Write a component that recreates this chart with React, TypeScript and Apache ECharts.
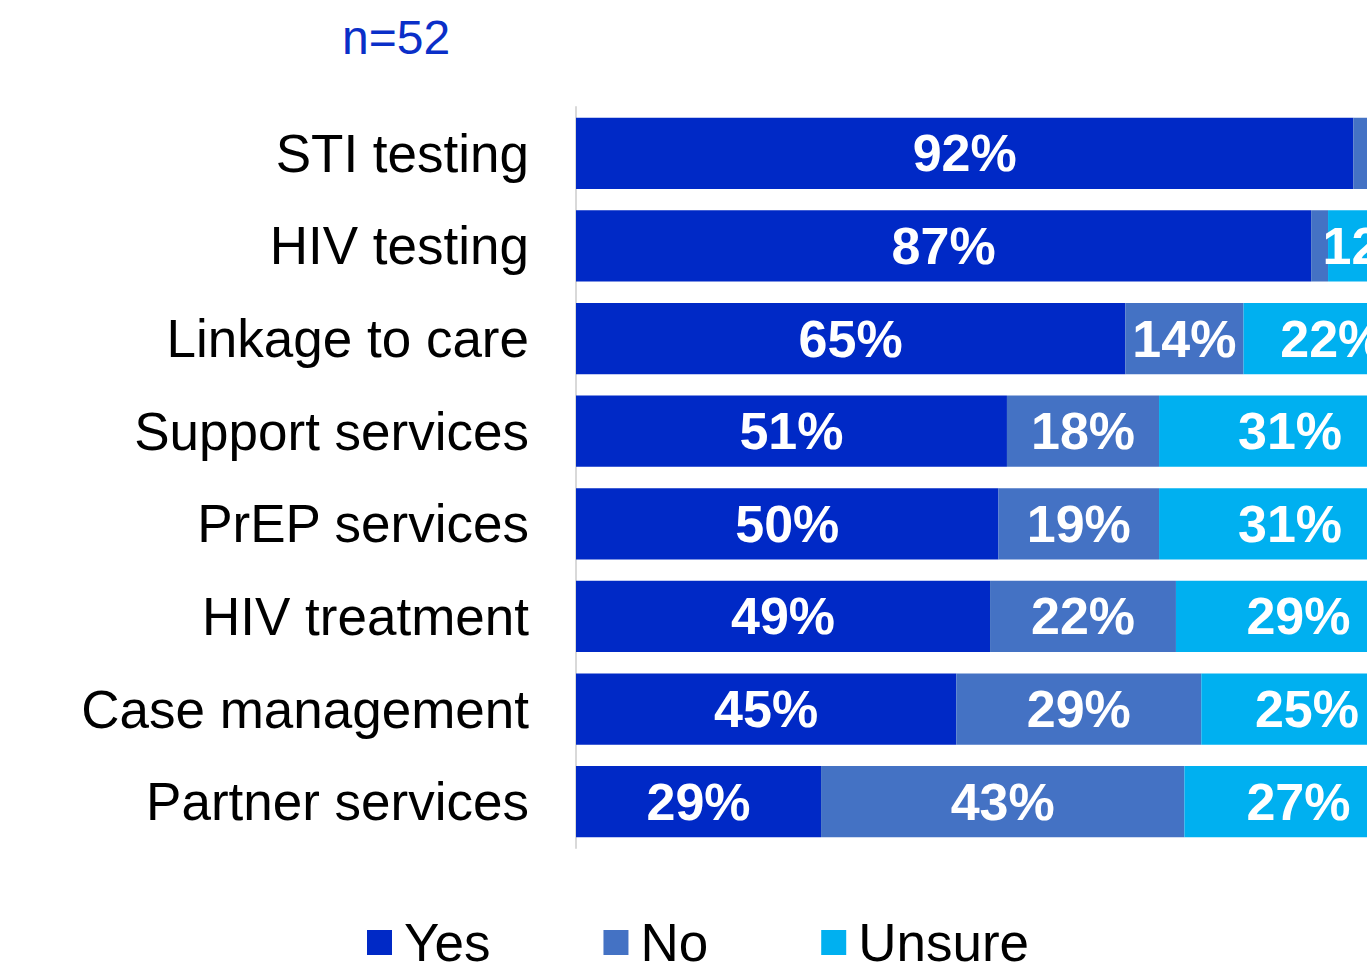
import React, { useEffect, useRef } from "react";
import * as echarts from "echarts";

const categories = [
  "STI testing",
  "HIV testing",
  "Linkage to care",
  "Support services",
  "PrEP services",
  "HIV treatment",
  "Case management",
  "Partner services",
];
const yesValues = [92, 87, 65, 51, 50, 49, 45, 29];
const noValues = [4, 2, 14, 18, 19, 22, 29, 43];
const unsureValues = [4, 12, 22, 31, 31, 29, 25, 27];
const seriesNames = ["Yes", "No", "Unsure"];
const colors = ["#0029C6", "#4472C4", "#00B0F0"];
const sampleLabel = "n=52";

const FONT = "'Liberation Sans', Arial, sans-serif";

export default function App() {
  const ref = useRef<HTMLDivElement>(null);
  useEffect(() => {
    if (!ref.current) return;
    const chart = echarts.init(ref.current, undefined, { renderer: "svg" });
    const dataSets = [yesValues, noValues, unsureValues];
    chart.setOption({
      animation: false,
      backgroundColor: "#ffffff",
      title: {
        text: sampleLabel,
        left: 337,
        top: 8,
        textStyle: { color: "#0A2FC8", fontSize: 48, fontWeight: "normal", fontFamily: FONT },
      },
      legend: {
        data: seriesNames,
        left: 367,
        top: 916,
        padding: 0,
        icon: "rect",
        itemWidth: 25,
        itemHeight: 25,
        itemGap: 113,
        textStyle: { fontSize: 53, color: "#000", fontFamily: FONT, padding: [0, 0, 0, 7] },
      },
      grid: { left: 576, right: 0, top: 107, bottom: 119, containLabel: false },
      xAxis: { type: "value", min: 0, max: 100, show: false },
      yAxis: {
        type: "category",
        inverse: true,
        data: categories,
        axisLine: { show: true, lineStyle: { color: "#D9D9D9", width: 2 } },
        axisTick: { show: false },
        splitLine: { show: false },
        axisLabel: { fontSize: 53, color: "#000", margin: 47, fontFamily: FONT },
      },
      series: seriesNames.map((name, i) => ({
        name,
        type: "bar",
        stack: "total",
        barCategoryGap: "23%",
        data: dataSets[i],
        itemStyle: { color: colors[i] },
        label: {
          show: true,
          position: "inside",
          color: "#fff",
          fontSize: 52,
          fontWeight: "bold",
          fontFamily: FONT,
          formatter: (p: any) => (p.value < 5 ? "" : p.value + "%"),
        },
      })),
    });
    return () => chart.dispose();
  }, []);
  return (
    <div
      ref={ref}
      style={{ position: "fixed", left: 0, top: 0, width: 1421, height: 967, overflow: "hidden" }}
    />
  );
}
